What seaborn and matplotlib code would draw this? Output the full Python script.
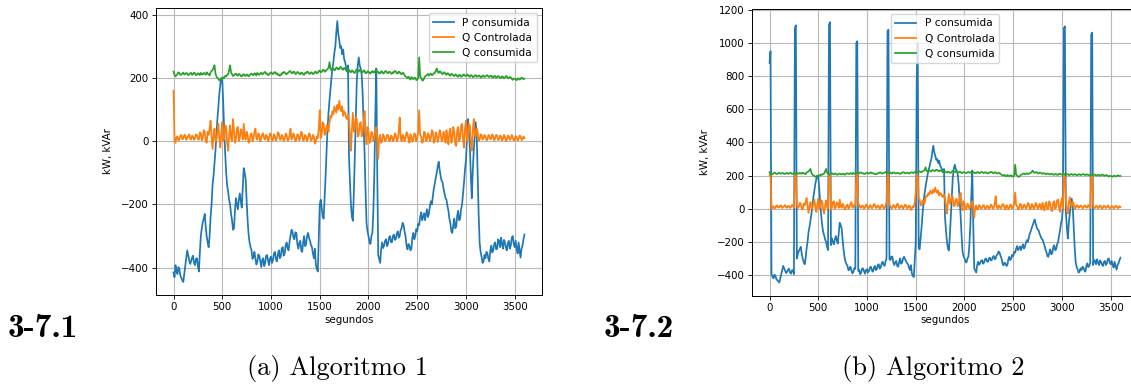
import numpy as np
import matplotlib
matplotlib.use("Agg")
import matplotlib.pyplot as plt
import seaborn as sns

# ---------------- data (one value every 10 s) ----------------
step_s = 10
t_end = 3600

p_consumida = [
    -415, -430, -392, -410, -420, -398, -405, -425, -432, -440, -445, -420, -395, -370, -345, -360, -375, -388, -380, -368,
    -362, -385, -392, -372, -370, -395, -412, -350, -300, -275, -255, -245, -230, -270, -300, -320, -335, -300, -240, -200,
    -140, -110, -70, -30, 20, 70, 110, 150, 180, 200, 195, 120, 30, -40, -100, -140, -160, -185, -200, -230,
    -250, -280, -275, -220, -180, -200, -215, -185, -165, -190, -210, -150, -85, -100, -120, -190, -250, -295, -320, -335,
    -345, -372, -365, -350, -372, -390, -380, -358, -362, -380, -398, -375, -370, -395, -385, -362, -360, -378, -392, -370,
    -365, -385, -375, -355, -350, -372, -380, -358, -345, -370, -365, -340, -335, -362, -355, -330, -320, -338, -345, -318,
    -300, -280, -285, -305, -310, -288, -290, -325, -340, -322, -315, -345, -350, -318, -300, -332, -325, -300, -290, -305,
    -315, -328, -335, -355, -370, -340, -390, -405, -412, -300, -200, -185, -210, -240, -245, -180, -110, -30, 40, 90,
    130, 165, 200, 230, 250, 280, 300, 345, 380, 340, 320, 295, 300, 275, 290, 260, 250, 235, 220, 240,
    -50, -130, -200, -240, -252, -160, -40, 80, 190, 240, 265, 240, 230, 210, 150, 60, -40, -160, -260, -285,
    -300, -318, -325, -300, -290, -220, -100, 80, 230, -100, -360, -372, -385, -340, -320, -338, -330, -315, -310, -332,
    -325, -305, -300, -318, -320, -300, -295, -312, -310, -292, -285, -305, -300, -280, -275, -258, -265, -285, -300, -330,
    -342, -325, -330, -345, -340, -305, -290, -310, -300, -278, -285, -262, -265, -240, -225, -250, -240, -228, -250, -230,
    -215, -240, -230, -205, -190, -200, -175, -150, -135, -115, -100, -80, -65, -90, -110, -125, -130, -150, -165, -180,
    -185, -205, -220, -245, -260, -285, -290, -265, -245, -275, -270, -235, -220, -250, -245, -215, -200, -165, -130, -90,
    -60, 10, 70, 30, -20, -110, -180, -90, -30, 20, 60, 20, -100, -230, -320, -350, -365, -385, -380, -360,
    -370, -350, -355, -372, -380, -345, -330, -352, -345, -325, -320, -342, -340, -310, -315, -335, -305, -325, -340, -312,
    -320, -338, -345, -322, -315, -340, -330, -305, -300, -325, -335, -315, -340, -355, -320, -345, -368, -340, -330, -310,
    -295,
]

q_controlada = [
    160, 0, -5, 12, 15, 2, 5, 18, 20, 6, 8, 20, 18, 4, 10, 16, 22, 8, 5, 18,
    15, 4, 10, 22, 20, 6, 5, 28, 25, 3, 10, 35, 30, 0, -5, 30, 20, 40, 65, 15,
    -25, 15, 40, 0, 5, 30, 55, 10, -20, 25, 60, 0, 10, 50, 45, -5, -30, 20, 50, 10,
    0, 70, 35, -5, 5, 40, 45, 0, 10, 38, 30, 5, 55, 15, 5, 30, 20, -5, 0, 20,
    25, 0, 10, 30, 40, 8, 5, 25, 20, 0, 10, 22, 25, 8, 5, 20, 15, 0, 10, 25,
    20, 0, 5, 22, 15, 2, 10, 28, 25, 6, 5, 20, 15, 0, 8, 24, 20, 2, 5, 18,
    40, 5, 10, 25, 15, 0, 5, 22, 20, 3, 10, 30, 25, 2, 5, 20, 15, 0, 10, 25,
    20, 2, 5, 20, 15, -8, 0, 15, 10, 40, 98, 10, 20, 60, 55, 20, 25, 50, 45, 30,
    60, 80, 75, 95, 85, 110, 100, 90, 115, 100, 128, 105, 95, 110, 80, 95, 90, 75, 70, 85,
    60, 20, -30, 40, 90, 30, 40, 75, 70, 15, 20, 55, 60, 15, 30, 60, 95, 30, -10, 45,
    30, -5, 0, 30, 25, 0, 10, 35, 45, 5, -55, 10, 20, -5, 0, 22, 15, 0, 5, 20,
    20, 2, 0, 18, 15, 0, 5, 25, 20, 0, 5, 30, 75, 10, 0, 20, 15, 0, 10, 28,
    25, 5, -5, 22, 15, -2, 5, 25, 20, 0, 10, 30, 98, 20, 15, -5, 0, 30, 25, 0,
    5, 25, 20, 0, 10, 35, 30, -5, 0, 28, 20, -2, 10, 35, 25, 0, 5, 30, 15, -5,
    35, 10, -10, 30, 40, -5, 5, 45, 30, -10, -15, 35, 45, 0, 10, 50, 55, 5, -20, 40,
    65, 0, 20, 55, 50, -10, -30, 35, 70, 20, 15, 40, 30, 0, 5, 22, 20, 5, 10, 20,
    15, 3, 5, 20, 18, 6, 8, 22, 15, 2, 10, 20, 18, 4, 5, 18, 15, 2, 8, 20,
    14, 0, 5, 18, 15, 4, 8, 20, 12, 2, 5, 16, 14, 2, 8, 18, 16, 4, 5, 15,
    10,
]

q_consumida = [
    220, 210, 205, 209, 212, 218, 215, 210, 210, 214, 217, 211, 212, 216, 214, 209, 210, 215, 216, 210,
    212, 217, 215, 209, 210, 215, 213, 209, 216, 212, 211, 216, 214, 210, 218, 213, 212, 208, 218, 222,
    225, 232, 240, 215, 205, 200, 198, 192, 194, 199, 196, 202, 200, 207, 205, 210, 212, 225, 240, 218,
    212, 206, 208, 212, 214, 209, 207, 213, 211, 206, 205, 210, 212, 208, 206, 211, 210, 205, 208, 212,
    214, 210, 209, 215, 213, 208, 216, 212, 210, 214, 217, 212, 213, 218, 219, 213, 214, 209, 210, 215,
    218, 214, 212, 217, 219, 213, 215, 210, 211, 207, 209, 215, 214, 219, 218, 213, 212, 216, 217, 222,
    221, 216, 215, 220, 219, 212, 214, 219, 218, 213, 212, 217, 216, 211, 210, 216, 215, 220, 219, 214,
    213, 218, 217, 212, 214, 219, 220, 215, 216, 222, 224, 218, 219, 225, 226, 220, 221, 226, 228, 232,
    250, 230, 224, 229, 230, 224, 226, 233, 232, 227, 228, 235, 234, 228, 226, 232, 230, 224, 222, 228,
    226, 220, 218, 224, 222, 217, 216, 223, 228, 221, 220, 226, 224, 219, 218, 224, 222, 215, 216, 221,
    220, 216, 214, 219, 222, 217, 218, 223, 225, 218, 219, 214, 215, 221, 220, 214, 216, 221, 222, 217,
    215, 220, 219, 214, 213, 218, 217, 222, 221, 215, 214, 220, 219, 213, 212, 217, 215, 208, 205, 202,
    200, 204, 198, 195, 203, 199, 196, 201, 200, 193, 195, 200, 265, 205, 200, 193, 192, 198, 205, 207,
    210, 213, 207, 211, 214, 209, 210, 215, 216, 222, 230, 219, 216, 221, 220, 214, 212, 217, 218, 213,
    210, 215, 214, 209, 207, 213, 212, 207, 206, 211, 210, 205, 204, 210, 209, 204, 205, 210, 211, 207,
    206, 211, 210, 205, 204, 209, 208, 203, 203, 208, 209, 204, 204, 208, 207, 202, 202, 207, 208, 203,
    204, 208, 209, 204, 203, 207, 207, 202, 201, 206, 206, 201, 202, 206, 205, 200, 200, 205, 204, 199,
    201, 206, 205, 200, 199, 203, 202, 197, 194, 198, 198, 195, 193, 198, 199, 195, 196, 201, 200, 196,
    198,
]

# Algoritmo 2: same base signals plus the switching spikes
spike_p_times = [0, 10, 260, 270, 610, 620, 890, 900, 1210, 1220, 1510, 1520, 3020, 3030, 3300, 3310]
spike_p_values = [880, 950, 1090, 1106, 1110, 1126, 1000, 1010, 1070, 1080, 780, 1000, 1090, 1100, 1050, 1062]
spike_q_times = [0, 10, 260, 270, 610, 620, 890, 900, 1210, 1220, 1510, 1520, 3020, 3030, 3300, 3310]
spike_q_values = [205, 205, 205, 205, 205, 205, 205, 205, 205, 205, 205, 205, 205, 205, 205, 205]

series_labels = ["P consumida", "Q Controlada", "Q consumida"]
x_ticks = [0, 500, 1000, 1500, 2000, 2500, 3000, 3500]
y_ticks_1 = [-400, -200, 0, 200, 400]
y_ticks_2 = [-400, -200, 0, 200, 400, 600, 800, 1000, 1200]
panel_tags = ["3-7.1", "3-7.2"]
captions = ["(a) Algoritmo 1", "(b) Algoritmo 2"]
x_label = "segundos"
y_label = "kW, kVAr"

# ---------------- build series ----------------
t = np.arange(0, t_end + 1, step_s)
n = min(len(t), len(p_consumida), len(q_controlada), len(q_consumida))
t = t[:n]
p1 = np.array(p_consumida[:n], dtype=float)
q1 = np.array(q_controlada[:n], dtype=float)
g1 = np.array(q_consumida[:n], dtype=float)

p2 = p1.copy()
for ts, v in zip(spike_p_times, spike_p_values):
    idx = ts // step_s
    if idx < n:
        p2[idx] = v
q2 = q1.copy()
for ts, v in zip(spike_q_times, spike_q_values):
    idx = ts // step_s
    if idx < n:
        q2[idx] = v

# ---------------- style ----------------
FS = 7.4
plt.rcParams.update({
    "font.family": ["DejaVu Sans"],
    "font.size": FS,
    "axes.linewidth": 0.7,
    "xtick.major.size": 2.6,
    "ytick.major.size": 2.6,
    "xtick.major.width": 0.6,
    "ytick.major.width": 0.6,
    "xtick.major.pad": 2.5,
    "ytick.major.pad": 2.5,
    "xtick.labelsize": FS,
    "ytick.labelsize": FS,
    "legend.fontsize": 7.6,
})
colors = sns.color_palette("tab10", 3)

fig = plt.figure(figsize=(11.31, 3.85), dpi=100)
W, H = 1131.0, 385.0
ax1 = fig.add_axes([156 / W, 1 - 295 / H, 386 / W, 287 / H])
ax2 = fig.add_axes([752 / W, 1 - 295.5 / H, 386 / W, 286.5 / H])


def draw(ax, p, q, g, yticks, legend_loc, ylab_x):
    for vals, lab, col in zip([p, q, g], series_labels, colors):
        sns.lineplot(x=t, y=vals, ax=ax, color=col, linewidth=1.25,
                     label=lab, estimator=None, sort=False)
    ax.set_xticks(x_ticks)
    ax.set_yticks(yticks)
    ax.margins(x=0.05, y=0.05)
    ax.grid(True, color="#b8b8b8", linewidth=0.8)
    ax.set_axisbelow(True)
    ax.set_xlabel(x_label, fontsize=FS, labelpad=2)
    ax.set_ylabel(y_label, fontsize=FS)
    ax.yaxis.set_label_coords(ylab_x, 0.5)
    ax.legend(loc=legend_loc, fontsize=7.6, framealpha=0.8,
              borderaxespad=0.5, handlelength=2.0)


draw(ax1, p1, q1, g1, y_ticks_1, "upper right", -0.112)
draw(ax2, p2, q2, g1, y_ticks_2, "upper center", -0.108)

fig.text(8 / W, 1 - 337 / H, panel_tags[0], fontfamily="cmb10",
         fontsize=24, ha="left", va="baseline")
fig.text(604 / W, 1 - 337 / H, panel_tags[1], fontfamily="cmb10",
         fontsize=24, ha="left", va="baseline")
fig.text(337.5 / W, 1 - 375 / H, captions[0], fontfamily="cmr10",
         fontsize=19, ha="center", va="baseline")
fig.text(933.5 / W, 1 - 375 / H, captions[1], fontfamily="cmr10",
         fontsize=19, ha="center", va="baseline")

fig.savefig("out.png", dpi=100)
